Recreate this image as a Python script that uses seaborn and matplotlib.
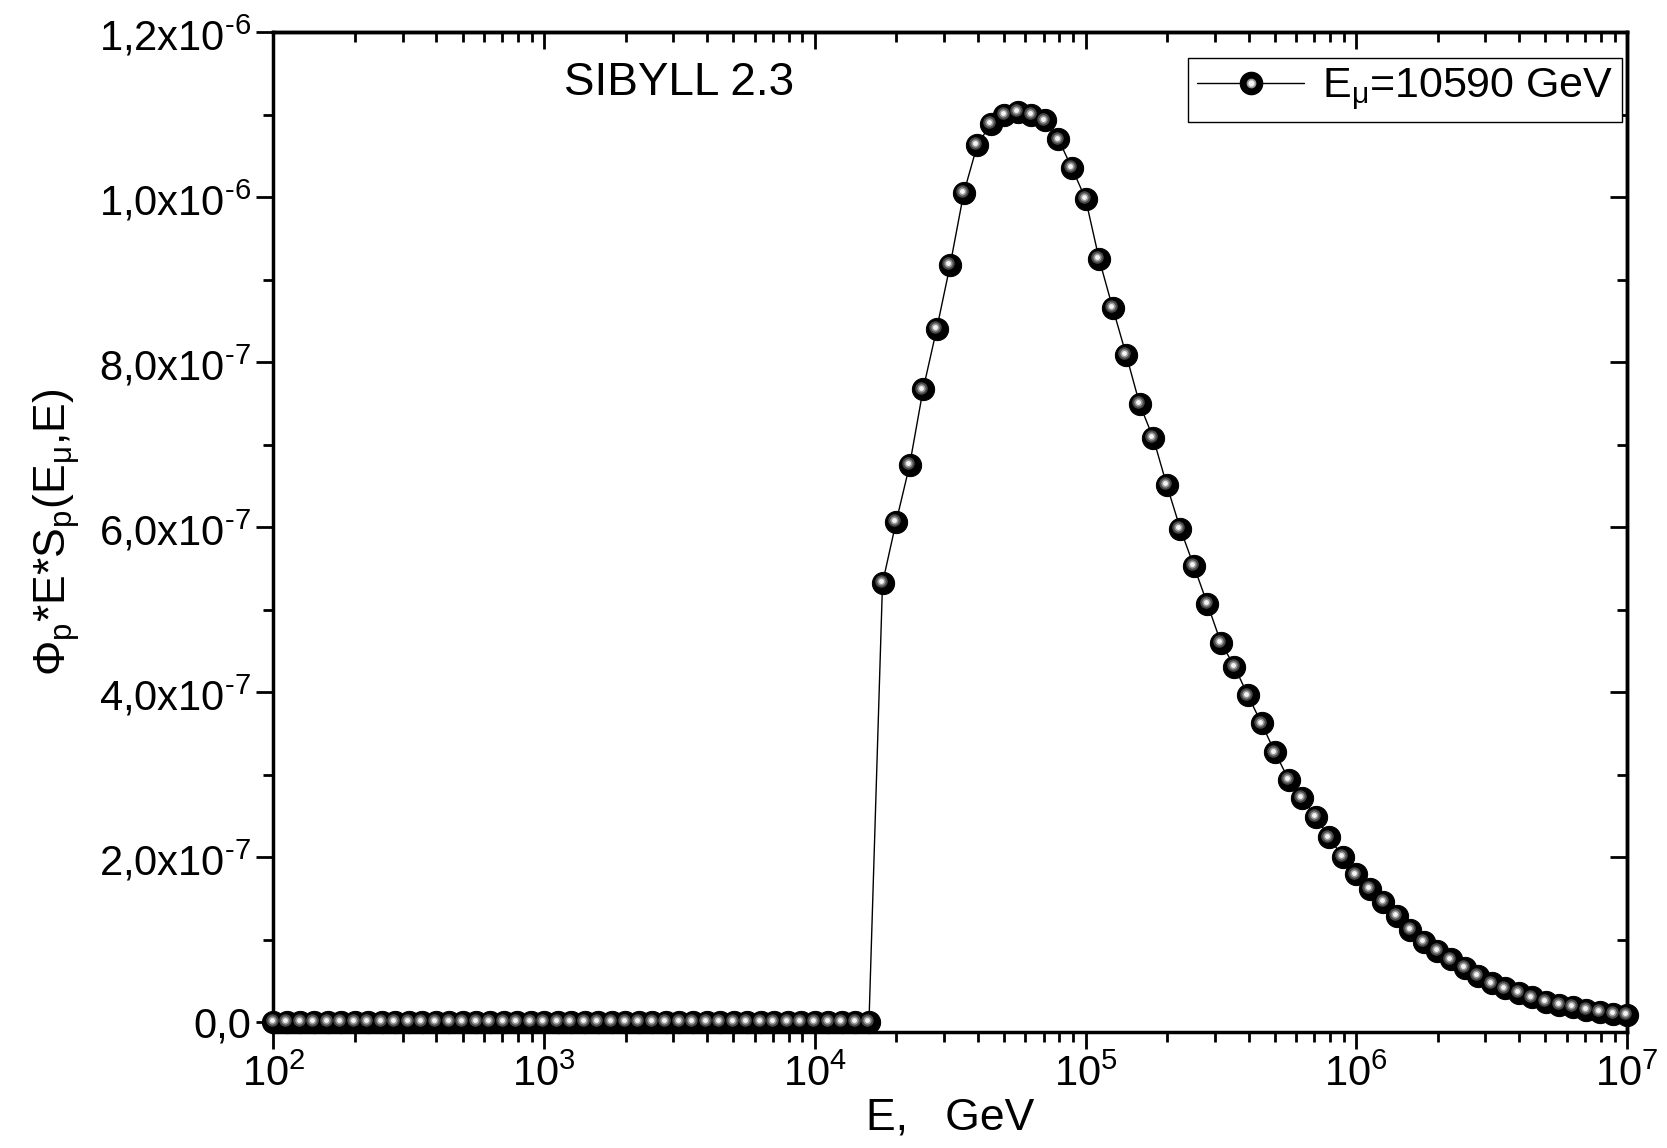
import numpy as np
import pandas as pd
import seaborn as sns
import matplotlib.pyplot as plt
import matplotlib.transforms as mtransforms
from matplotlib.legend_handler import HandlerTuple
from matplotlib.lines import Line2D

# log10(E) grid of the calculation, 20 points per decade from 10^2 to 10^7
log_e = [round(2.0 + 0.05 * k, 2) for k in range(101)]

# Phi_p*E*S_p in units of 1e-7 (zero below the threshold)
flux_zero = [0.0] * 45
flux_peak = [5.32, 6.06, 6.75, 7.67, 8.40, 9.18, 10.05, 10.63, 10.89, 11.00,
             11.03, 11.00, 10.93, 10.70, 10.35, 9.98, 9.25, 8.66, 8.09, 7.49,
             7.08, 6.51, 5.98, 5.53, 5.07, 4.60, 4.31, 3.96, 3.62, 3.27,
             2.94, 2.72, 2.49, 2.24, 2.00, 1.79, 1.62, 1.46, 1.29, 1.12,
             0.97, 0.86, 0.76, 0.66, 0.56, 0.47, 0.41, 0.35, 0.30, 0.25,
             0.21, 0.18, 0.15, 0.12, 0.10, 0.09]

ytick_vals = [0, 2e-7, 4e-7, 6e-7, 8e-7, 1e-6, 1.2e-6]
ytick_minor = [1e-7, 3e-7, 5e-7, 7e-7, 9e-7, 1.1e-6]
ytick_labels = ['0,0', '2,0x10$^{\\text{-}7}$', '4,0x10$^{\\text{-}7}$', '6,0x10$^{\\text{-}7}$',
                '8,0x10$^{\\text{-}7}$', '1,0x10$^{\\text{-}6}$', '1,2x10$^{\\text{-}6}$']
xtick_vals = [1e2, 1e3, 1e4, 1e5, 1e6, 1e7]
xtick_labels = ['10$^{2}$', '10$^{3}$', '10$^{4}$', '10$^{5}$', '10$^{6}$', '10$^{7}$']

df = pd.DataFrame({'E': [10 ** v for v in log_e],
                   'flux': [v * 1e-7 for v in flux_zero + flux_peak]})

sns.set_style('ticks')
plt.rcParams['font.family'] = ['Liberation Sans', 'DejaVu Sans']
plt.rcParams['mathtext.fontset'] = 'custom'
plt.rcParams['mathtext.rm'] = 'Liberation Sans'
plt.rcParams['mathtext.it'] = 'Liberation Sans'
plt.rcParams['mathtext.bf'] = 'Liberation Sans:bold'
for k in ['text.color', 'axes.labelcolor', 'xtick.color', 'ytick.color', 'axes.edgecolor']:
    plt.rcParams[k] = 'black'

fig = plt.figure(figsize=(16.67, 11.48), dpi=100)
ax = fig.add_axes([0.164, 0.101, 0.812, 0.871])

sns.lineplot(data=df, x='E', y='flux', ax=ax, color='black', lw=1,
             marker='o', markersize=16, markeredgecolor='black',
             markerfacecolor='black', clip_on=False, zorder=3)

# shading of the spheres
shift = mtransforms.ScaledTranslation(-1.3 / 72, 1.3 / 72, fig.dpi_scale_trans)
ax.plot(df['E'], df['flux'], 'o', ms=9, color='#4a4a4a', mec='none',
        transform=ax.transData + shift, clip_on=False, zorder=4)
ax.plot(df['E'], df['flux'], 'o', ms=6, color='#9a9a9a', mec='none',
        transform=ax.transData + shift, clip_on=False, zorder=5)
ax.plot(df['E'], df['flux'], 'o', ms=3.5, color='#f4f4f4', mec='none',
        transform=ax.transData + shift, clip_on=False, zorder=6)

ax.set_xscale('log')
ax.set_xlim(1e2, 1e7)
ax.set_ylim(-1.2e-8, 1.2e-6)
ax.set_xticks(xtick_vals)
ax.set_xticklabels(xtick_labels)
ax.set_yticks(ytick_vals)
ax.set_yticklabels(ytick_labels)
ax.set_yticks(ytick_minor, minor=True)

for s in ax.spines.values():
    s.set_linewidth(2.5)
ax.tick_params(which='major', direction='out', length=12, width=2,
               labelsize=30, pad=4)
ax.tick_params(which='minor', direction='out', length=7, width=2)

top = ax.secondary_xaxis('top')
top.set_xticks(xtick_vals)
top.tick_params(which='major', direction='in', length=12, width=2, labeltop=False)
top.tick_params(which='minor', direction='in', length=7, width=2)
right = ax.secondary_yaxis('right')
right.set_yticks(ytick_vals)
right.set_yticks(ytick_minor, minor=True)
right.tick_params(which='major', direction='in', length=12, width=2, labelright=False)
right.tick_params(which='minor', direction='in', length=7, width=2)
for sec in (top, right):
    for s in sec.spines.values():
        s.set_linewidth(2.5)

ax.set_xlabel('E,   GeV', fontsize=32, labelpad=2)
ax.set_ylabel(r'$\Phi_p$*E*S$_p$(E$_\mu$,E)', fontsize=32, labelpad=12)

ax.text(0.30, 0.949, 'SIBYLL 2.3', transform=ax.transAxes, fontsize=33,
        ha='center', va='center')

h_ball = Line2D([], [], color='black', lw=1, marker='o', ms=16, mfc='black', mec='black')
h_mid = Line2D([], [], ls='none', marker='o', ms=6, color='#9a9a9a')
h_shade = Line2D([], [], ls='none', marker='o', ms=3.5, color='#f4f4f4')
leg = ax.legend([(h_ball, h_mid, h_shade)], [r'E$_\mu$=10590 GeV'],
                handler_map={tuple: HandlerTuple(ndivide=1, pad=0)},
                loc='upper right', bbox_to_anchor=(0.996, 0.974), fontsize=31,
                frameon=True, fancybox=False, edgecolor='black', framealpha=1,
                borderpad=0.2, handlelength=2.5, handletextpad=0.4,
                borderaxespad=0)
leg.get_frame().set_linewidth(1)

fig.savefig('out.png', dpi=100)
